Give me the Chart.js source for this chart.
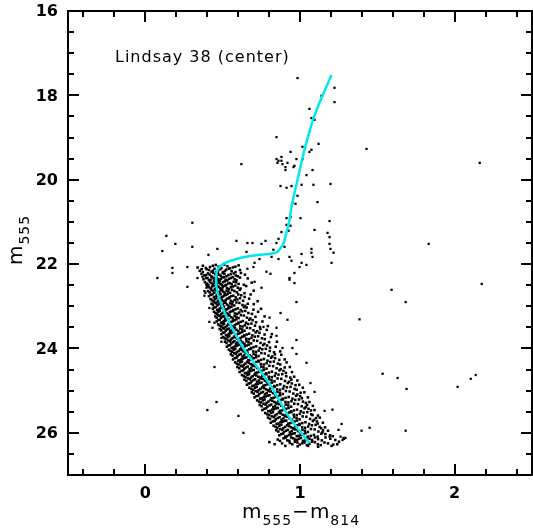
<!DOCTYPE html>
<html>
<head>
<meta charset="utf-8">
<script src="https://cdn.jsdelivr.net/npm/chart.js@4.4.1/dist/chart.umd.min.js"></script>
<style>
html, body { margin: 0; padding: 0; background: #fff; overflow: hidden; }
canvas { display: block; }
</style>
</head>
<body>
<canvas id="cmd" width="533" height="529"></canvas>
<script>
// isochrone (colour, magnitude)
const isoColor = [1.204, 1.139, 1.107, 1.074, 1.029, 0.984, 0.945, 0.932, 0.900, 0.887, 0.854, 0.800, 0.738, 0.660, 0.589, 0.530, 0.492, 0.468, 0.460, 0.458, 0.460, 0.475, 0.498, 0.525, 0.557, 0.597, 0.641, 0.690, 0.738, 0.816, 0.868, 0.919, 0.990, 1.061];
const isoMag   = [17.52, 18.06, 18.35, 18.70, 19.29, 20.00, 20.64, 20.95, 21.43, 21.55, 21.71, 21.76, 21.78, 21.82, 21.88, 21.95, 22.02, 22.12, 22.21, 22.38, 22.54, 22.78, 23.01, 23.25, 23.49, 23.76, 24.03, 24.28, 24.51, 24.91, 25.25, 25.57, 25.92, 26.24];

// stars away from the main sequence band
const fieldStars = [
  [0.984,17.59],[1.223,17.82],[1.223,18.16],[1.139,18.01],[1.061,18.32],[1.074,18.54],[1.094,18.58],
  [0.848,18.99],[1.120,19.15],[1.016,19.22],[1.061,19.34],[1.074,19.29],[0.939,19.34],[0.848,19.51],
  [0.861,19.55],[0.880,19.46],[0.880,19.55],[0.854,19.60],[0.887,19.63],[0.919,19.60],[0.906,19.70],
  [0.906,19.77],[0.958,19.70],[0.977,19.51],[1.016,19.51],[1.081,19.77],[1.042,19.89],[0.621,19.63],
  [0.964,19.67],[0.874,20.15],[0.913,20.19],[0.945,20.15],[1.010,20.12],[1.087,20.12],[1.197,20.10],
  [0.984,20.38],[1.113,20.53],[0.951,20.55],[0.971,20.57],[1.003,20.91],[0.913,20.91],[0.939,20.88],
  [1.191,20.98],[0.913,21.07],[0.939,21.09],[0.926,21.21],[0.880,21.24],[1.094,21.19],[1.178,21.26],
  [1.191,21.36],[0.861,21.40],[0.848,21.50],[0.777,21.45],[0.751,21.52],[0.693,21.50],[0.660,21.50],
  [0.589,21.45],[0.466,21.64],[0.408,21.78],[0.654,21.71],[0.828,21.66],[0.900,21.59],[1.074,21.64],
  [1.191,21.52],[1.197,21.64],[1.217,21.73],[1.081,21.83],[1.074,21.73],[1.010,21.76],[0.932,21.83],
  [0.945,21.92],[0.861,21.88],[1.010,21.97],[0.997,22.07],[1.042,22.02],[1.204,21.97],[0.964,22.21],
  [0.932,22.33],[0.809,22.23],[0.783,22.18],[0.699,22.07],[0.660,22.11],[0.706,21.97],[0.738,21.88],
  [0.816,21.83],[0.304,21.02],[0.136,21.33],[0.194,21.52],[0.110,21.69],[0.304,21.59],[0.175,22.09],
  [0.175,22.21],[0.272,22.07],[0.272,22.54],[0.337,22.33],[0.369,22.30],[0.078,22.33],[0.395,22.49],
  [0.395,22.56],[0.382,22.64],[0.388,22.68],[0.382,22.75],[0.751,22.56],[0.706,22.42],[0.932,22.37],
  [0.964,22.45],[0.977,22.90],[0.874,23.16],[0.803,23.27],[0.764,23.49],[0.848,23.51],[0.919,23.32],
  [0.977,23.80],[0.951,23.99],[0.887,23.99],[0.848,23.70],[0.414,23.04],[0.414,23.37],[0.434,23.51],
  [0.447,23.39],[0.492,23.84],[0.492,23.75],[1.385,23.31],[0.447,24.44],[0.460,25.27],[0.401,25.46],
  [0.602,25.60],[0.634,26.00],[0.977,24.13],[1.042,24.34],[1.068,24.82],[1.094,25.03],[1.159,25.48],
  [1.210,25.45],[1.249,25.93],[1.282,26.12],[1.191,26.09],
  [1.430,19.27],[2.162,19.60],[1.832,21.52],[2.175,22.47],[1.592,22.61],[1.683,22.90],[1.534,24.60],
  [1.631,24.70],[1.689,24.96],[2.019,24.91],[2.104,24.72],[2.136,24.63],[1.269,25.79],[1.398,25.95],
  [1.450,25.88],[1.683,25.95],[1.262,26.09],[1.275,26.17],[1.294,26.12]
];

// main sequence and turnoff stars
const msStars = [
  [0.372,22.04],[0.418,22.07],[0.455,22.02],[0.492,22.09],[0.531,22.05],[0.566,22.08],[0.603,22.03],
  [0.352,22.16],[0.396,22.12],[0.428,22.18],[0.447,22.11],[0.471,22.15],[0.503,22.19],[0.524,22.13],[0.558,22.17],[0.612,22.14],
  [0.381,22.27],[0.405,22.22],[0.426,22.29],[0.452,22.24],[0.468,22.21],[0.489,22.28],[0.511,22.23],[0.537,22.26],[0.572,22.22],[0.598,22.29],[0.644,22.25],
  [0.392,22.33],[0.411,22.38],[0.433,22.31],[0.449,22.36],[0.463,22.34],[0.482,22.39],[0.497,22.32],[0.519,22.37],[0.541,22.35],[0.566,22.31],[0.589,22.38],[0.662,22.34],
  [0.396,22.46],[0.418,22.42],[0.437,22.48],[0.452,22.44],[0.471,22.41],[0.486,22.47],[0.503,22.43],[0.524,22.49],[0.548,22.45],[0.571,22.42],[0.603,22.47],[0.688,22.44],
  [0.401,22.53],[0.423,22.58],[0.441,22.51],[0.458,22.56],[0.474,22.54],[0.492,22.59],[0.509,22.52],[0.528,22.57],[0.553,22.55],[0.582,22.51],[0.616,22.58],
  [0.405,22.64],[0.428,22.61],[0.446,22.68],[0.462,22.63],[0.479,22.66],[0.497,22.62],[0.514,22.69],[0.536,22.65],[0.561,22.61],[0.592,22.67],[0.701,22.63],
  [0.411,22.76],[0.434,22.72],[0.452,22.78],[0.468,22.74],[0.486,22.71],[0.503,22.77],[0.521,22.73],[0.544,22.79],[0.569,22.75],[0.601,22.72],[0.642,22.78],
  [0.422,22.83],[0.441,22.88],[0.459,22.81],[0.476,22.86],[0.493,22.84],[0.511,22.89],[0.529,22.82],[0.553,22.87],[0.578,22.85],[0.612,22.81],[0.726,22.88],
  [0.428,22.94],[0.447,22.91],[0.466,22.98],[0.483,22.93],[0.501,22.96],[0.519,22.92],[0.538,22.99],[0.561,22.95],[0.589,22.91],[0.628,22.97],[0.662,22.94],
  [0.436,23.06],[0.455,23.02],[0.473,23.08],[0.491,23.04],[0.508,23.01],[0.527,23.07],[0.546,23.03],[0.569,23.09],[0.598,23.05],[0.637,23.02],[0.748,23.06],
  [0.444,23.13],[0.463,23.18],[0.481,23.11],[0.499,23.16],[0.517,23.14],[0.536,23.19],[0.556,23.12],[0.579,23.17],[0.607,23.15],[0.646,23.11],[0.689,23.18],
  [0.452,23.24],[0.471,23.21],[0.489,23.28],[0.507,23.23],[0.526,23.26],[0.545,23.22],[0.566,23.29],[0.589,23.25],[0.618,23.21],[0.657,23.27],[0.771,23.24],
  [0.461,23.36],[0.481,23.32],[0.499,23.38],[0.517,23.34],[0.536,23.31],[0.556,23.37],[0.577,23.33],[0.601,23.39],[0.631,23.35],[0.672,23.32],[0.716,23.38],
  [0.471,23.43],[0.491,23.48],[0.509,23.41],[0.528,23.46],[0.547,23.44],[0.567,23.49],[0.589,23.42],[0.613,23.47],[0.644,23.45],[0.686,23.41],[0.792,23.47],
  [0.481,23.54],[0.501,23.51],[0.520,23.58],[0.539,23.53],[0.558,23.56],[0.579,23.52],[0.601,23.59],[0.626,23.55],[0.657,23.51],[0.699,23.57],[0.744,23.54],
  [0.492,23.66],[0.512,23.62],[0.531,23.68],[0.551,23.64],[0.570,23.61],[0.591,23.67],[0.614,23.63],[0.639,23.69],[0.671,23.65],[0.713,23.62],[0.818,23.66],
  [0.503,23.73],[0.523,23.78],[0.543,23.71],[0.563,23.76],[0.583,23.74],[0.604,23.79],[0.627,23.72],[0.653,23.77],[0.686,23.75],[0.729,23.71],[0.772,23.78],
  [0.515,23.84],[0.536,23.81],[0.556,23.88],[0.576,23.83],[0.596,23.86],[0.618,23.82],[0.641,23.89],[0.667,23.85],[0.701,23.81],[0.745,23.87],[0.851,23.84],
  [0.527,23.96],[0.548,23.92],[0.569,23.98],[0.589,23.94],[0.610,23.91],[0.632,23.97],[0.656,23.93],[0.683,23.99],[0.717,23.95],[0.762,23.92],[0.806,23.98],
  [0.540,24.03],[0.561,24.08],[0.582,24.01],[0.603,24.06],[0.624,24.04],[0.647,24.09],[0.671,24.02],[0.698,24.07],[0.733,24.05],[0.779,24.01],[0.872,24.07],
  [0.553,24.14],[0.575,24.11],[0.596,24.18],[0.617,24.13],[0.639,24.16],[0.662,24.12],[0.686,24.19],[0.714,24.15],[0.750,24.11],[0.796,24.17],[0.838,24.14],
  [0.567,24.26],[0.589,24.22],[0.611,24.28],[0.632,24.24],[0.654,24.21],[0.677,24.27],[0.702,24.23],[0.731,24.29],[0.767,24.25],[0.813,24.22],[0.901,24.26],
  [0.581,24.33],[0.603,24.38],[0.625,24.31],[0.647,24.36],[0.669,24.34],[0.693,24.39],[0.718,24.32],[0.747,24.37],[0.784,24.35],[0.831,24.31],[0.872,24.38],
  [0.595,24.44],[0.618,24.41],[0.640,24.48],[0.662,24.43],[0.685,24.46],[0.709,24.42],[0.735,24.49],[0.764,24.45],[0.802,24.41],[0.849,24.47],[0.934,24.44],
  [0.610,24.56],[0.633,24.52],[0.655,24.58],[0.678,24.54],[0.701,24.51],[0.725,24.57],[0.751,24.53],[0.781,24.59],[0.819,24.55],[0.867,24.52],[0.909,24.58],
  [0.625,24.63],[0.648,24.68],[0.671,24.61],[0.694,24.66],[0.717,24.64],[0.742,24.69],[0.768,24.62],[0.798,24.67],[0.837,24.65],[0.885,24.61],[0.962,24.67],
  [0.641,24.74],[0.664,24.71],[0.687,24.78],[0.710,24.73],[0.734,24.76],[0.759,24.72],[0.785,24.79],[0.816,24.75],[0.855,24.71],[0.903,24.77],[0.944,24.74],
  [0.657,24.86],[0.680,24.82],[0.703,24.88],[0.727,24.84],[0.751,24.81],[0.776,24.87],[0.803,24.83],[0.834,24.89],[0.873,24.85],[0.921,24.82],[0.995,24.86],
  [0.673,24.93],[0.697,24.98],[0.720,24.91],[0.744,24.96],[0.768,24.94],[0.793,24.99],[0.821,24.92],[0.852,24.97],[0.891,24.95],[0.939,24.91],[0.978,24.98],
  [0.689,25.04],[0.713,25.01],[0.737,25.08],[0.761,25.03],[0.785,25.06],[0.811,25.02],[0.839,25.09],[0.870,25.05],[0.909,25.01],[0.957,25.07],[1.028,25.04],
  [0.706,25.16],[0.730,25.12],[0.754,25.18],[0.778,25.14],[0.803,25.11],[0.829,25.17],[0.857,25.13],[0.888,25.19],[0.927,25.15],[0.975,25.12],[1.012,25.18],
  [0.723,25.23],[0.747,25.28],[0.771,25.21],[0.796,25.26],[0.821,25.24],[0.847,25.29],[0.875,25.22],[0.906,25.27],[0.945,25.25],[0.993,25.21],[1.061,25.27],
  [0.740,25.34],[0.764,25.31],[0.789,25.38],[0.814,25.33],[0.839,25.36],[0.865,25.32],[0.893,25.39],[0.924,25.35],[0.963,25.31],[1.011,25.37],[1.046,25.34],
  [0.757,25.46],[0.782,25.42],[0.807,25.48],[0.832,25.44],[0.857,25.41],[0.883,25.47],[0.911,25.43],[0.942,25.49],[0.981,25.45],[1.029,25.42],[1.094,25.46],
  [0.775,25.53],[0.800,25.58],[0.825,25.51],[0.850,25.56],[0.875,25.54],[0.901,25.59],[0.929,25.52],[0.960,25.57],[0.999,25.55],[1.047,25.51],[1.081,25.58],
  [0.793,25.64],[0.818,25.61],[0.843,25.68],[0.868,25.63],[0.893,25.66],[0.919,25.62],[0.947,25.69],[0.978,25.65],[1.017,25.61],[1.065,25.67],[1.128,25.64],
  [0.811,25.76],[0.836,25.72],[0.861,25.78],[0.886,25.74],[0.911,25.71],[0.937,25.77],[0.965,25.73],[0.996,25.79],[1.035,25.75],[1.083,25.72],[1.115,25.78],
  [0.829,25.83],[0.854,25.88],[0.879,25.81],[0.904,25.86],[0.929,25.84],[0.955,25.89],[0.983,25.82],[1.014,25.87],[1.053,25.85],[1.101,25.81],[1.162,25.87],
  [0.847,25.94],[0.872,25.91],[0.897,25.98],[0.922,25.93],[0.947,25.96],[0.973,25.92],[1.001,25.99],[1.032,25.95],[1.071,25.91],[1.119,25.97],[1.149,25.94],
  [0.866,26.06],[0.891,26.02],[0.916,26.08],[0.941,26.04],[0.966,26.01],[0.992,26.07],[1.020,26.03],[1.051,26.09],[1.090,26.05],[1.138,26.02],[1.195,26.06],
  [0.893,26.13],[0.918,26.18],[0.943,26.11],[0.968,26.16],[0.993,26.14],[1.019,26.19],[1.047,26.12],[1.078,26.17],[1.117,26.15],[1.165,26.11],[1.228,26.17],
  [0.934,26.24],[0.967,26.21],[0.998,26.28],[1.029,26.23],[1.061,26.26],[1.096,26.22],[1.134,26.29],[1.181,26.25],
  [0.985,26.32],[1.052,26.31],[1.117,26.33],[1.204,26.31],
  [0.802,26.22],[0.836,26.27],[0.871,26.19],[1.252,26.21],[1.283,26.14],[1.241,26.27],[0.905,26.31]
];

// more main sequence stars, between the rows above
const msStarsB = [
  [0.391,22.09],[0.436,22.04],[0.474,22.06],[0.511,22.01],[0.547,22.10],[0.582,22.06],[0.338,22.08],
  [0.372,22.19],[0.411,22.14],[0.437,22.16],[0.459,22.19],[0.486,22.12],[0.515,22.16],[0.541,22.11],[0.583,22.19],[0.364,22.12],
  [0.363,22.23],[0.393,22.26],[0.416,22.25],[0.439,22.21],[0.460,22.28],[0.478,22.25],[0.500,22.21],[0.524,22.29],[0.553,22.24],[0.585,22.27],[0.618,22.21],
  [0.376,22.36],[0.402,22.33],[0.422,22.37],[0.441,22.34],[0.456,22.31],[0.472,22.36],[0.489,22.35],[0.508,22.31],[0.530,22.39],[0.553,22.33],[0.577,22.36],[0.612,22.32],
  [0.385,22.43],[0.407,22.49],[0.427,22.45],[0.444,22.41],[0.461,22.47],[0.478,22.44],[0.494,22.49],[0.513,22.41],[0.536,22.46],[0.559,22.48],[0.586,22.43],[0.637,22.49],
  [0.412,22.55],[0.432,22.53],[0.449,22.59],[0.466,22.52],[0.483,22.57],[0.500,22.55],[0.518,22.51],[0.540,22.59],[0.567,22.53],[0.598,22.56],[0.652,22.52],
  [0.416,22.67],[0.437,22.64],[0.454,22.61],[0.470,22.69],[0.488,22.62],[0.505,22.66],[0.525,22.63],[0.548,22.68],[0.576,22.64],[0.610,22.61],[0.641,22.69],
  [0.422,22.73],[0.443,22.79],[0.460,22.75],[0.477,22.72],[0.494,22.78],[0.512,22.74],[0.532,22.71],[0.556,22.76],[0.585,22.79],[0.620,22.74],[0.681,22.72],
  [0.431,22.86],[0.450,22.83],[0.467,22.89],[0.484,22.82],[0.502,22.87],[0.520,22.85],[0.541,22.81],[0.565,22.89],[0.595,22.84],[0.632,22.87],[0.671,22.82],
  [0.437,22.97],[0.456,22.93],[0.474,22.95],[0.492,22.99],[0.510,22.91],[0.528,22.96],[0.549,22.93],[0.575,22.98],[0.608,22.92],[0.645,22.99],[0.701,22.95],
  [0.445,23.03],[0.464,23.09],[0.482,23.05],[0.499,23.02],[0.517,23.08],[0.536,23.05],[0.557,23.01],[0.583,23.07],[0.617,23.09],[0.655,23.03],[0.699,23.08],
  [0.453,23.16],[0.472,23.13],[0.490,23.19],[0.508,23.12],[0.526,23.17],[0.546,23.14],[0.567,23.11],[0.593,23.18],[0.626,23.12],[0.666,23.16],[0.729,23.13],
  [0.461,23.27],[0.480,23.23],[0.498,23.25],[0.516,23.29],[0.535,23.21],[0.555,23.26],[0.577,23.23],[0.603,23.28],[0.637,23.22],[0.679,23.29],[0.712,23.25],
  [0.471,23.33],[0.490,23.39],[0.508,23.35],[0.526,23.32],[0.546,23.38],[0.566,23.35],[0.589,23.31],[0.616,23.37],[0.651,23.39],[0.694,23.33],[0.757,23.36],
  [0.481,23.46],[0.500,23.43],[0.518,23.49],[0.537,23.42],[0.557,23.47],[0.578,23.45],[0.601,23.41],[0.629,23.48],[0.665,23.42],[0.709,23.46],[0.741,23.49],
  [0.491,23.57],[0.510,23.53],[0.529,23.55],[0.548,23.59],[0.568,23.51],[0.590,23.56],[0.613,23.53],[0.641,23.58],[0.678,23.52],[0.723,23.59],[0.785,23.56],
  [0.502,23.63],[0.521,23.69],[0.541,23.65],[0.561,23.62],[0.581,23.68],[0.603,23.65],[0.626,23.61],[0.655,23.67],[0.692,23.69],[0.738,23.63],[0.771,23.67],
  [0.513,23.76],[0.533,23.73],[0.553,23.79],[0.573,23.72],[0.594,23.77],[0.616,23.75],[0.640,23.71],[0.670,23.78],[0.708,23.72],[0.754,23.76],[0.812,23.73],
  [0.525,23.87],[0.546,23.83],[0.566,23.85],[0.586,23.89],[0.607,23.81],[0.629,23.86],[0.654,23.83],[0.684,23.88],[0.723,23.82],[0.770,23.89],[0.800,23.85],
  [0.537,23.93],[0.558,23.99],[0.579,23.95],[0.600,23.92],[0.621,23.98],[0.644,23.95],[0.669,23.91],[0.700,23.97],[0.740,23.99],[0.787,23.93],[0.843,23.96],
  [0.550,24.06],[0.571,24.03],[0.592,24.09],[0.613,24.02],[0.635,24.07],[0.659,24.05],[0.684,24.01],[0.716,24.08],[0.756,24.02],[0.804,24.06],[0.832,24.09],
  [0.564,24.17],[0.585,24.13],[0.607,24.15],[0.628,24.19],[0.650,24.11],[0.674,24.16],[0.700,24.13],[0.732,24.18],[0.773,24.12],[0.821,24.19],[0.879,24.15],
  [0.578,24.23],[0.600,24.29],[0.622,24.25],[0.643,24.22],[0.666,24.28],[0.690,24.25],[0.716,24.21],[0.749,24.27],[0.790,24.29],[0.839,24.23],[0.866,24.27],
  [0.592,24.36],[0.614,24.33],[0.636,24.39],[0.658,24.32],[0.681,24.37],[0.706,24.35],[0.733,24.31],[0.766,24.38],[0.808,24.32],[0.857,24.36],[0.913,24.33],
  [0.607,24.47],[0.629,24.43],[0.651,24.45],[0.674,24.49],[0.697,24.41],[0.722,24.46],[0.750,24.43],[0.783,24.48],[0.826,24.42],[0.875,24.49],[0.901,24.45],
  [0.622,24.53],[0.644,24.59],[0.667,24.55],[0.690,24.52],[0.713,24.58],[0.738,24.55],[0.766,24.51],[0.800,24.57],[0.843,24.59],[0.893,24.53],[0.948,24.56],
  [0.637,24.66],[0.660,24.63],[0.683,24.69],[0.706,24.62],[0.730,24.67],[0.755,24.65],[0.783,24.61],[0.817,24.68],[0.861,24.62],[0.911,24.66],[0.937,24.69],
  [0.653,24.77],[0.676,24.73],[0.699,24.75],[0.722,24.79],[0.747,24.71],[0.772,24.76],[0.800,24.73],[0.835,24.78],[0.879,24.72],[0.929,24.79],[0.983,24.76],
  [0.669,24.83],[0.692,24.89],[0.715,24.85],[0.739,24.82],[0.764,24.88],[0.790,24.85],[0.818,24.81],[0.853,24.87],[0.897,24.89],[0.947,24.83],[0.971,24.87],
  [0.685,24.96],[0.709,24.93],[0.732,24.99],[0.756,24.92],[0.781,24.97],[0.807,24.95],[0.836,24.91],[0.871,24.98],[0.915,24.92],[0.965,24.96],[1.018,24.93],
  [0.701,25.07],[0.725,25.03],[0.749,25.05],[0.773,25.09],[0.798,25.01],[0.825,25.06],[0.854,25.03],[0.889,25.08],[0.933,25.02],[0.983,25.09],[1.004,25.05],
  [0.718,25.13],[0.742,25.19],[0.766,25.15],[0.791,25.12],[0.816,25.18],[0.843,25.15],[0.872,25.11],[0.907,25.17],[0.951,25.19],[1.001,25.13],[1.051,25.16],
  [0.735,25.26],[0.759,25.23],[0.784,25.29],[0.809,25.22],[0.834,25.27],[0.861,25.25],[0.890,25.21],[0.925,25.28],[0.969,25.22],[1.019,25.26],[1.038,25.29],
  [0.752,25.37],[0.777,25.33],[0.802,25.35],[0.827,25.39],[0.852,25.31],[0.879,25.36],[0.908,25.33],[0.943,25.38],[0.987,25.32],[1.037,25.39],[1.083,25.36],
  [0.770,25.43],[0.795,25.49],[0.820,25.45],[0.845,25.42],[0.870,25.48],[0.897,25.45],[0.926,25.41],[0.961,25.47],[1.005,25.49],[1.055,25.43],[1.071,25.47],
  [0.788,25.56],[0.813,25.53],[0.838,25.59],[0.863,25.52],[0.888,25.57],[0.915,25.55],[0.944,25.51],[0.979,25.58],[1.023,25.52],[1.073,25.56],[1.116,25.59],
  [0.806,25.67],[0.831,25.63],[0.856,25.65],[0.881,25.69],[0.906,25.61],[0.933,25.66],[0.962,25.63],[0.997,25.68],[1.041,25.62],[1.091,25.69],[1.104,25.65],
  [0.824,25.73],[0.849,25.79],[0.874,25.75],[0.899,25.72],[0.924,25.78],[0.951,25.75],[0.980,25.71],[1.015,25.77],[1.059,25.79],[1.109,25.73],[1.148,25.76],
  [0.842,25.86],[0.867,25.83],[0.892,25.89],[0.917,25.82],[0.942,25.87],[0.969,25.85],[0.998,25.81],[1.033,25.88],[1.077,25.82],[1.127,25.86],[1.137,25.89],
  [0.860,25.97],[0.885,25.93],[0.910,25.95],[0.935,25.99],[0.960,25.91],[0.987,25.96],[1.016,25.93],[1.051,25.98],[1.095,25.92],[1.145,25.99],[1.181,25.95],
  [0.879,26.03],[0.904,26.09],[0.929,26.05],[0.954,26.02],[0.979,26.08],[1.006,26.05],[1.035,26.01],[1.070,26.07],[1.114,26.09],[1.164,26.03],[1.212,26.08],
  [0.856,26.16],[0.906,26.12],[0.931,26.19],[0.956,26.13],[0.981,26.17],[1.006,26.12],[1.033,26.18],[1.062,26.14],[1.097,26.11],[1.141,26.18],[1.196,26.14],
  [0.950,26.27],[0.983,26.23],[1.014,26.25],[1.045,26.29],[1.078,26.21],[1.115,26.27],[1.158,26.23],[1.215,26.28],[0.884,26.25]
];

const xTickLabels = ['0', '1', '2'];
const yTickLabels = ['16', '18', '20', '22', '24', '26'];
const titleText = 'Lindsay 38 (center)';

const toPoints = function (list) {
    return list.map(function (p) { return { x: p[0], y: p[1] }; });
};

let isoPoints = isoColor.map(function (c, i) { return { x: c, y: isoMag[i] }; });

// text with a subscript part, pieces = [[text, isSub], ...]
function drawSubText(ctx, pieces, cx, cy, angle) {
    let big = '20px "DejaVu Sans"';
    let small = '14px "DejaVu Sans"';
    ctx.save();
    ctx.letterSpacing = '1px';
    let total = 0;
    pieces.forEach(function (p) {
        ctx.font = p[1] ? small : big;
        total += ctx.measureText(p[0]).width;
    });
    ctx.translate(cx, cy);
    ctx.rotate(angle);
    ctx.textAlign = 'left';
    ctx.textBaseline = 'alphabetic';
    let x = -total / 2;
    pieces.forEach(function (p) {
        ctx.font = p[1] ? small : big;
        ctx.fillText(p[0], x, p[1] ? 7 : 0);
        x += ctx.measureText(p[0]).width;
    });
    ctx.restore();
}

const framePlugin = {
    id: 'framePlugin',
    afterDraw: function (chart) {
        let ctx = chart.ctx;
        let a = chart.chartArea;
        let xs = chart.scales.x;
        let ys = chart.scales.y;
        ctx.save();
        ctx.strokeStyle = '#000';
        ctx.fillStyle = '#000';
        ctx.lineWidth = 2;
        ctx.strokeRect(a.left, a.top, a.right - a.left, a.bottom - a.top);

        ctx.beginPath();
        for (let k = -2; k <= 12; k++) {
            let px = Math.round(xs.getPixelForValue(k * 0.2));
            let len = (k % 5 === 0) ? 11 : 6;
            ctx.moveTo(px, a.bottom); ctx.lineTo(px, a.bottom - len);
            ctx.moveTo(px, a.top); ctx.lineTo(px, a.top + len);
        }
        for (let k = 33; k <= 53; k++) {
            let py = Math.round(ys.getPixelForValue(k * 0.5));
            let len = (k % 4 === 0) ? 11 : 6;
            ctx.moveTo(a.left, py); ctx.lineTo(a.left + len, py);
            ctx.moveTo(a.right, py); ctx.lineTo(a.right - len, py);
        }
        ctx.stroke();

        ctx.font = 'bold 16px "DejaVu Sans"';
        ctx.textAlign = 'center';
        ctx.textBaseline = 'middle';
        xTickLabels.forEach(function (t) {
            ctx.fillText(t, xs.getPixelForValue(Number(t)), 494);
        });
        ctx.textAlign = 'right';
        yTickLabels.forEach(function (t) {
            ctx.fillText(t, 58, ys.getPixelForValue(Number(t)) + 1);
        });

        ctx.textAlign = 'left';
        ctx.textBaseline = 'alphabetic';
        ctx.font = '16px "DejaVu Sans"';
        ctx.letterSpacing = '1px';
        ctx.fillText(titleText, 115, 62);
        ctx.letterSpacing = '0px';

        drawSubText(ctx, [['m', false], ['555', true], ['\u2212', false], ['m', false], ['814', true]], 301, 518, 0);
        drawSubText(ctx, [['m', false], ['555', true]], 22, 240, -Math.PI / 2);
        ctx.restore();
    }
};

let ctx = document.getElementById('cmd').getContext('2d');

let starStyle = {
    type: 'scatter',
    pointStyle: 'rect',
    pointRadius: 1.8,
    borderWidth: 0,
    backgroundColor: '#000'
};

let data = {
    datasets: [
        {
            type: 'line',
            label: 'isochrone',
            data: isoPoints,
            borderColor: '#00e8f0',
            borderWidth: 2.5,
            pointRadius: 0,
            tension: 0.2,
            fill: false
        },
        Object.assign({}, starStyle, { label: 'main sequence', data: toPoints(msStars) }),
        Object.assign({}, starStyle, { label: 'main sequence b', data: toPoints(msStarsB) }),
        Object.assign({}, starStyle, { label: 'field', data: toPoints(fieldStars), pointRadius: 1.6 })
    ]
};

let options = {
    responsive: false,
    animation: false,
    devicePixelRatio: 1,
    layout: { autoPadding: false, padding: { left: 68, top: 11, right: 1, bottom: 54 } },
    plugins: { legend: { display: false }, tooltip: { enabled: false } },
    scales: {
        x: { type: 'linear', min: -0.5, max: 2.5, display: false },
        y: { type: 'linear', min: 16, max: 27, reverse: true, display: false }
    }
};

let config = {
    type: 'scatter',
    data: data,
    options: options,
    plugins: [framePlugin]
};

let cmdChart = new Chart(ctx, config);
</script>
</body>
</html>
